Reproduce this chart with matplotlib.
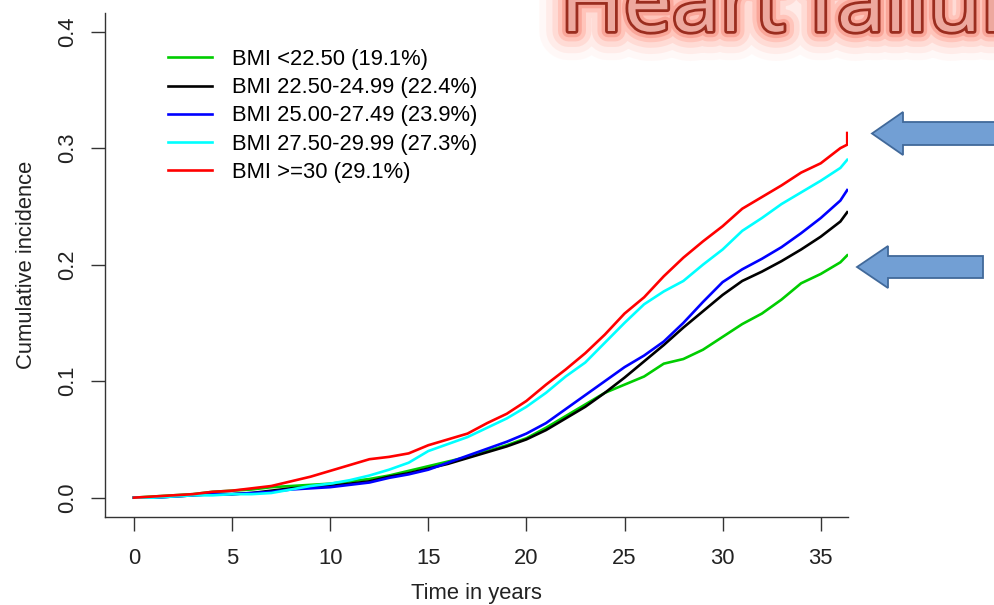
import matplotlib
matplotlib.use("Agg")
import matplotlib.pyplot as plt
import matplotlib.patheffects as pe
from matplotlib.patches import Polygon

plt.rcParams["font.family"] = ["Liberation Sans", "DejaVu Sans"]

# cumulative incidence, yearly knots
years = list(range(37)) + [36.35]
green = [0, .001, .002, .003, .005, .006, .007, .009, .010, .011, .012, .014, .016, .019,
         .023, .027, .031, .035, .040, .045, .051, .060, .070, .080, .090, .097, .104,
         .115, .119, .127, .138, .149, .158, .170, .184, .192, .202, .208]
black = [0, 0, .001, .002, .003, .003, .004, .006, .008, .009, .010, .012, .014, .018,
         .021, .025, .029, .034, .039, .044, .050, .058, .068, .078, .090, .103, .117,
         .131, .146, .160, .174, .186, .194, .203, .213, .224, .237, .245]
blue = [0, 0, .001, .002, .003, .003, .004, .005, .007, .008, .009, .011, .013, .017,
        .020, .024, .030, .036, .042, .048, .055, .064, .076, .088, .100, .112, .122,
        .134, .150, .168, .185, .196, .205, .215, .227, .240, .255, .264]
cyan = [0, 0, .001, .002, .002, .003, .003, .004, .007, .010, .012, .015, .019, .024,
        .030, .040, .046, .052, .060, .068, .078, .090, .104, .116, .133, .150, .166,
        .177, .186, .200, .213, .229, .240, .252, .262, .272, .283, .290]
red_years = years + [36.35]
red = [0, .001, .002, .003, .005, .006, .008, .010, .014, .018, .023, .028, .033, .035,
       .038, .045, .050, .055, .064, .072, .083, .097, .110, .124, .140, .158, .172,
       .190, .206, .220, .233, .248, .258, .268, .279, .287, .300, .303, .313]

labels = ["BMI <22.50 (19.1%)", "BMI 22.50-24.99 (22.4%)", "BMI 25.00-27.49 (23.9%)",
          "BMI 27.50-29.99 (27.3%)", "BMI >=30 (29.1%)"]
colors = ["#00cd00", "#000000", "#0000ff", "#00ffff", "#ff0000"]
xticks = [0, 5, 10, 15, 20, 25, 30, 35]
yticks = [0.0, 0.1, 0.2, 0.3, 0.4]

W, H = 995, 605
FS = 15.8
fig = plt.figure(figsize=(W / 100, H / 100), dpi=100)
fig.patch.set_facecolor("white")
ax = fig.add_axes([105.5 / W, 1 - 517 / H, (848 - 105.5) / W, (517 - 13) / H])

series = [(years, green), (years, black), (years, blue), (years, cyan), (red_years, red)]
for (t, v), c, lab in zip(series, colors, labels):
    ax.plot(t, v, color=c, lw=1.9, label=lab, solid_joinstyle="miter")

ax.set_xlim(-1.45, 36.39)
ax.set_ylim(-0.0166, 0.416)
ax.set_xticks(xticks)
ax.set_yticks(yticks)
ax.set_yticklabels([f"{v:.1f}" for v in yticks])

for side in ("top", "right"):
    ax.spines[side].set_visible(False)
for side in ("left", "bottom"):
    ax.spines[side].set_color("#333333")
    ax.spines[side].set_linewidth(1.0)

ax.tick_params(axis="both", length=10, width=1.0, color="#333333",
               labelsize=FS, labelcolor="#222222")
ax.tick_params(axis="x", pad=12.5)
ax.tick_params(axis="y", pad=9.5)
for lbl in ax.get_yticklabels():
    lbl.set_rotation(90)
    lbl.set_va("center")

ax.set_xlabel("Time in years", fontsize=FS, color="#222222")
ax.xaxis.set_label_coords(0.5, -0.131)
ax.set_ylabel("Cumulative incidence", fontsize=FS, color="#222222")
ax.yaxis.set_label_coords(-0.092, 0.5)

leg = ax.legend(loc="upper left", bbox_to_anchor=(168 / W, 1 - 49 / H),
                bbox_transform=fig.transFigure, frameon=False, fontsize=FS,
                handlelength=2.0, handletextpad=0.9, labelspacing=0.33,
                borderpad=0, borderaxespad=0)
for ln in leg.get_lines():
    ln.set_linewidth(1.9)

# slide title, cut off at the top edge
fig.text(560 / W, 1 - 31 / H, "Heart failure", fontsize=62, family="Open Sans",
         color="#eda89e", ha="left", va="baseline",
         path_effects=[
             pe.Stroke(linewidth=42, foreground="#ffd6cf", alpha=0.15),
             pe.Stroke(linewidth=32, foreground="#ffc0b4", alpha=0.2),
             pe.Stroke(linewidth=23, foreground="#ffab9d", alpha=0.25),
             pe.Stroke(linewidth=15, foreground="#ff9a8a", alpha=0.35),
             pe.Stroke(linewidth=9, foreground="#f58a7a", alpha=0.5),
             pe.Stroke(linewidth=4, foreground="#9b2d1f"),
             pe.Normal()])


# block arrows pointing at the curves (pixel geometry)
def block_arrow(tip_x, cy, head_x, head_h, shaft_h, tail_x):
    pts = [(tip_x, cy), (head_x, cy - head_h), (head_x, cy - shaft_h), (tail_x, cy - shaft_h),
           (tail_x, cy + shaft_h), (head_x, cy + shaft_h), (head_x, cy + head_h)]
    pts = [(x / W, 1 - y / H) for x, y in pts]
    fig.patches.append(Polygon(pts, closed=True, transform=fig.transFigure,
                               facecolor="#729fd4", edgecolor="#41699a", lw=1.3))


block_arrow(872, 133.5, 903, 21.5, 11.5, 1010)
block_arrow(857, 267, 888, 21, 11, 983)

fig.savefig("out.png", dpi=100, facecolor="white")
